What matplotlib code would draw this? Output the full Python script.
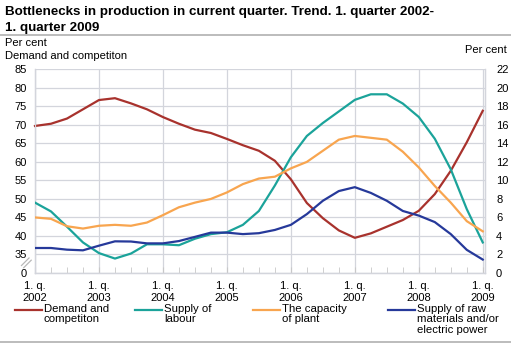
import numpy as np
import matplotlib
matplotlib.use("Agg")
import matplotlib.pyplot as plt
from matplotlib.lines import Line2D

plt.rcParams['font.family'] = ['Liberation Sans', 'DejaVu Sans']

# quarters 2002Q1 .. 2009Q1
quarters = np.arange(29)
year_labels = ['1. q.\n%d' % y for y in range(2002, 2010)]

demand = [69.7, 70.3, 71.7, 74.2, 76.7, 77.2, 75.8, 74.2, 72.1, 70.3, 68.7, 67.8,
          66.2, 64.5, 63.0, 60.3, 55.3, 48.9, 44.8, 41.5, 39.5, 40.7, 42.5, 44.3,
          46.8, 51.3, 57.6, 65.3, 73.8]
labour = [7.6, 6.65, 5.0, 3.3, 2.15, 1.56, 2.1, 3.1, 3.1, 3.0, 3.7, 4.2,
          4.4, 5.2, 6.7, 9.45, 12.5, 14.8, 16.2, 17.45, 18.7, 19.3, 19.3, 18.3,
          16.85, 14.5, 11.2, 6.9, 3.3]
capacity = [6.0, 5.85, 5.05, 4.8, 5.1, 5.2, 5.1, 5.45, 6.25, 7.1, 7.6, 8.0,
            8.7, 9.6, 10.2, 10.4, 11.3, 12.0, 13.2, 14.4, 14.8, 14.6, 14.4, 13.1,
            11.4, 9.4, 7.6, 5.6, 4.5]
raw = [2.7, 2.7, 2.52, 2.45, 2.95, 3.42, 3.4, 3.2, 3.2, 3.45, 3.9, 4.36,
       4.36, 4.2, 4.3, 4.65, 5.2, 6.36, 7.8, 8.85, 9.27, 8.65, 7.8, 6.7,
       6.2, 5.5, 4.2, 2.5, 1.45]

left_ticks = [0, 35, 40, 45, 50, 55, 60, 65, 70, 75, 80, 85]
right_ticks = list(range(0, 23, 2))

series_names = ['Demand and\ncompetiton', 'Supply of\nlabour',
                'The capacity\nof plant', 'Supply of raw\nmaterials and/or\nelectric power']
colors = ['#a8322d', '#1ba39a', '#f8a54f', '#26399a']

W, H = 511, 344
fig = plt.figure(figsize=(W / 100, H / 100), dpi=100)

def fx(px):
    return px / W

def fy(py):
    return 1 - py / H

ax = fig.add_axes([fx(35), fy(273), fx(485) - fx(35), fy(69.3) - fy(273)])

# broken left scale: 0 then 35..85
def fwd(v):
    v = np.asarray(v, dtype=float)
    return np.where(v < 35, v / 35.0, (v - 30) / 5.0)

def inv(p):
    p = np.asarray(p, dtype=float)
    return np.where(p < 1, p * 35.0, p * 5.0 + 30)

ax.set_yscale('function', functions=(fwd, inv))
ax.set_ylim(0, 85)
ax.set_yticks(left_ticks)
ax.set_yticklabels([str(t) for t in left_ticks])
ax.set_xlim(0, 28.14)

ax2 = ax.twinx()
ax2.set_ylim(0, 22)
ax2.set_yticks(right_ticks)

grid_c = '#d3d5dc'
ax.set_xticks(np.arange(0, 29, 4))
ax.set_xticklabels(year_labels)
ax.set_xticks(quarters, minor=True)
ax.grid(axis='y', color=grid_c, lw=0.9)
ax.grid(axis='x', which='major', color=grid_c, lw=0.9)
ax.set_axisbelow(True)
ax.tick_params(axis='x', which='both', direction='in', length=4, color='#c8c8c8',
               labelsize=8, pad=6)
ax.tick_params(axis='y', length=0, labelsize=8, pad=6)
ax2.tick_params(axis='y', length=0, labelsize=8, pad=8)
for a in (ax, ax2):
    for s in a.spines.values():
        s.set_color(grid_c)
        s.set_linewidth(0.9)
    a.spines['top'].set_visible(False)
for lab in ax2.get_yticklabels():
    lab.set_horizontalalignment('left')

ax.plot(quarters, demand, color=colors[0], lw=1.6, clip_on=False, zorder=5)
ax2.plot(quarters, labour, color=colors[1], lw=1.6, zorder=5)
ax2.plot(quarters, capacity, color=colors[2], lw=1.6, zorder=5)
ax2.plot(quarters, raw, color=colors[3], lw=1.6, zorder=5)

# axis break marks
for dx in (0, 2.2):
    fig.add_artist(Line2D([fx(21.5 + dx), fx(29 + dx)], [fy(265.5 + dx), fy(258 + dx)],
                          color='#b8b8b8', lw=0.9))

# titles
fig.text(fx(5), fy(14.5), 'Bottlenecks in production in current quarter. Trend. 1. quarter 2002-',
         fontsize=9.6, fontweight='bold', va='baseline')
fig.text(fx(5), fy(31), '1. quarter 2009', fontsize=9.6, fontweight='bold', va='baseline')
fig.add_artist(Line2D([0, 1], [fy(34.5), fy(34.5)], color='#b0b0b0', lw=1.2))
fig.add_artist(Line2D([0, 1], [fy(342), fy(342)], color='#b0b0b0', lw=1.2))

fig.text(fx(5), fy(46), 'Per cent', fontsize=8, va='baseline')
fig.text(fx(5), fy(59), 'Demand and competiton', fontsize=8, va='baseline')
fig.text(fx(507), fy(53), 'Per cent', fontsize=8, va='baseline', ha='right')

# legend
leg_x = [15, 135, 253, 388]
for x0, name, c in zip(leg_x, series_names, colors):
    fig.add_artist(Line2D([fx(x0), fx(x0 + 27)], [fy(310), fy(310)], color=c, lw=1.6))
    fig.text(fx(x0 + 29), fy(304), name, fontsize=8.2, va='top', linespacing=1.05)

fig.savefig('out.png', dpi=100)
